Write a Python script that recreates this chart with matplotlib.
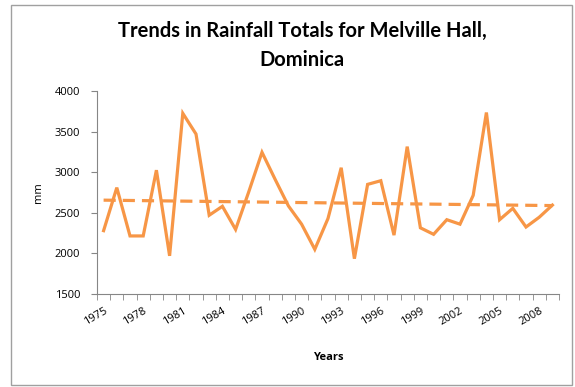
import numpy as np
import matplotlib.pyplot as plt
from matplotlib.patches import Rectangle

# Annual rainfall totals (mm), Melville Hall, Dominica
years = list(range(1975, 2010))
rainfall = [2280, 2810, 2215, 2215, 3025, 1970, 3725, 3470, 2470, 2580,
            2295, 2760, 3245, 2910, 2585, 2360, 2050, 2430, 3055, 1935,
            2850, 2895, 2225, 3315, 2315, 2235, 2415, 2360, 2715, 3735,
            2415, 2555, 2325, 2445, 2595]
tick_years = list(range(1975, 2010, 3))

orange = '#F79646'
grey = '#868686'

fig = plt.figure(figsize=(5.75, 3.87), dpi=100)
ax = fig.add_axes([97/575, 1 - 294/387, 462/575, 203/387])

# outer chart frame
fig.patches.append(Rectangle((11/575, 2/387), 561/575, 380/387, transform=fig.transFigure,
                             fill=False, edgecolor='#A0A0A0', linewidth=1))

ax.plot(years, rainfall, color=orange, linewidth=2.3, solid_joinstyle='miter')

# linear trend line
coef = np.polyfit(years, rainfall, 1)
trend = np.polyval(coef, years)
ax.plot(years, trend, color=orange, linewidth=2.3, linestyle=(0, (3.8, 2.2)))

ax.set_xlim(1974.5, 2009.5)
ax.set_ylim(1500, 4000)
ax.set_yticks([1500, 2000, 2500, 3000, 3500, 4000])
ax.set_xticks(tick_years)
ax.set_xticks(np.arange(1974.5, 2010, 1), minor=True)
ax.set_xticklabels([str(y) for y in tick_years], rotation=30, ha='right',
                   rotation_mode='anchor', fontsize=8, family='Open Sans')
for lab in ax.get_yticklabels():
    lab.set_fontsize(8)
    lab.set_family('Open Sans')

ax.tick_params(axis='x', which='major', length=0, pad=8)
ax.tick_params(axis='x', which='minor', length=4, color=grey, direction='out')
ax.tick_params(axis='y', length=4, color=grey, direction='out', pad=8)

for side in ['top', 'right']:
    ax.spines[side].set_visible(False)
for side in ['left', 'bottom']:
    ax.spines[side].set_color(grey)

ax.set_xlabel('Years', fontsize=8, fontweight='bold', family='Open Sans', labelpad=18)
ax.set_ylabel('mm', fontsize=8, family='Open Sans', labelpad=8)

fig.text(302/575, 1 - 31/387, 'Trends in Rainfall Totals for Melville Hall,',
         ha='center', va='center', fontsize=14.5, fontweight='bold', family='Lato')
fig.text(302/575, 1 - 60/387, 'Dominica',
         ha='center', va='center', fontsize=14.5, fontweight='bold', family='Lato')

fig.savefig('out.png', dpi=100)
